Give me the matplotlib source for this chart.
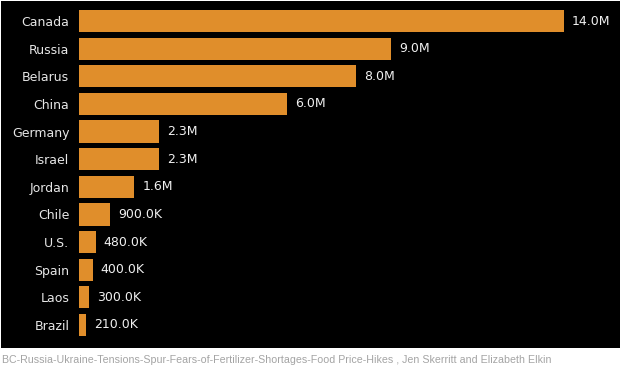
import matplotlib
matplotlib.use("Agg")
import matplotlib.pyplot as plt
from matplotlib.patches import Rectangle

countries = ["Canada", "Russia", "Belarus", "China", "Germany", "Israel", "Jordan",
             "Chile", "U.S.", "Spain", "Laos", "Brazil"]
values_m = [14.0, 9.0, 8.0, 6.0, 2.3, 2.3, 1.6, 0.9, 0.48, 0.40, 0.30, 0.21]
value_labels = ["14.0M", "9.0M", "8.0M", "6.0M", "2.3M", "2.3M", "1.6M",
                "900.0K", "480.0K", "400.0K", "300.0K", "210.0K"]
caption = "BC-Russia-Ukraine-Tensions-Spur-Fears-of-Fertilizer-Shortages-Food Price-Hikes , Jen Skerritt and Elizabeth Elkin"

W, H = 622, 373
fig = plt.figure(figsize=(W / 100, H / 100), dpi=100)
fig.patch.set_facecolor("white")
fig.patches.append(Rectangle((1 / W, 1 - 348 / H), 619 / W, 347 / H,
                             transform=fig.transFigure, facecolor="black",
                             edgecolor="none", zorder=-10))

left, right = 79, 600
top, bottom = 7.2, 338.8
ax = fig.add_axes([left / W, 1 - bottom / H, (right - left) / W, (bottom - top) / H])
ax.set_zorder(5)
ax.patch.set_alpha(0)
px_per_m = 34.64
ax.set_xlim(0, (right - left) / px_per_m)
ax.set_ylim(len(countries) - 0.5, -0.5)

ypos = list(range(len(countries)))
ax.barh(ypos, values_m, height=0.8, color="#E08E2B", edgecolor="none")
for y, v, lab in zip(ypos, values_m, value_labels):
    ax.text(v + 8 / px_per_m, y, lab, color="#F0F0F0", fontsize=9,
            va="center", ha="left", family="DejaVu Sans")

ax.set_yticks(ypos)
ax.set_yticklabels(countries, color="#E6E6E6", fontsize=9, family="DejaVu Sans")
ax.tick_params(axis="y", length=0, pad=7)
ax.set_xticks([])
for s in ax.spines.values():
    s.set_visible(False)

fig.text(2 / W, 1 - 360 / H, caption, color="#A4A4A4", fontsize=7.7,
         family="Liberation Sans", va="center", ha="left")

fig.savefig("out.png", dpi=100, facecolor=fig.get_facecolor())
